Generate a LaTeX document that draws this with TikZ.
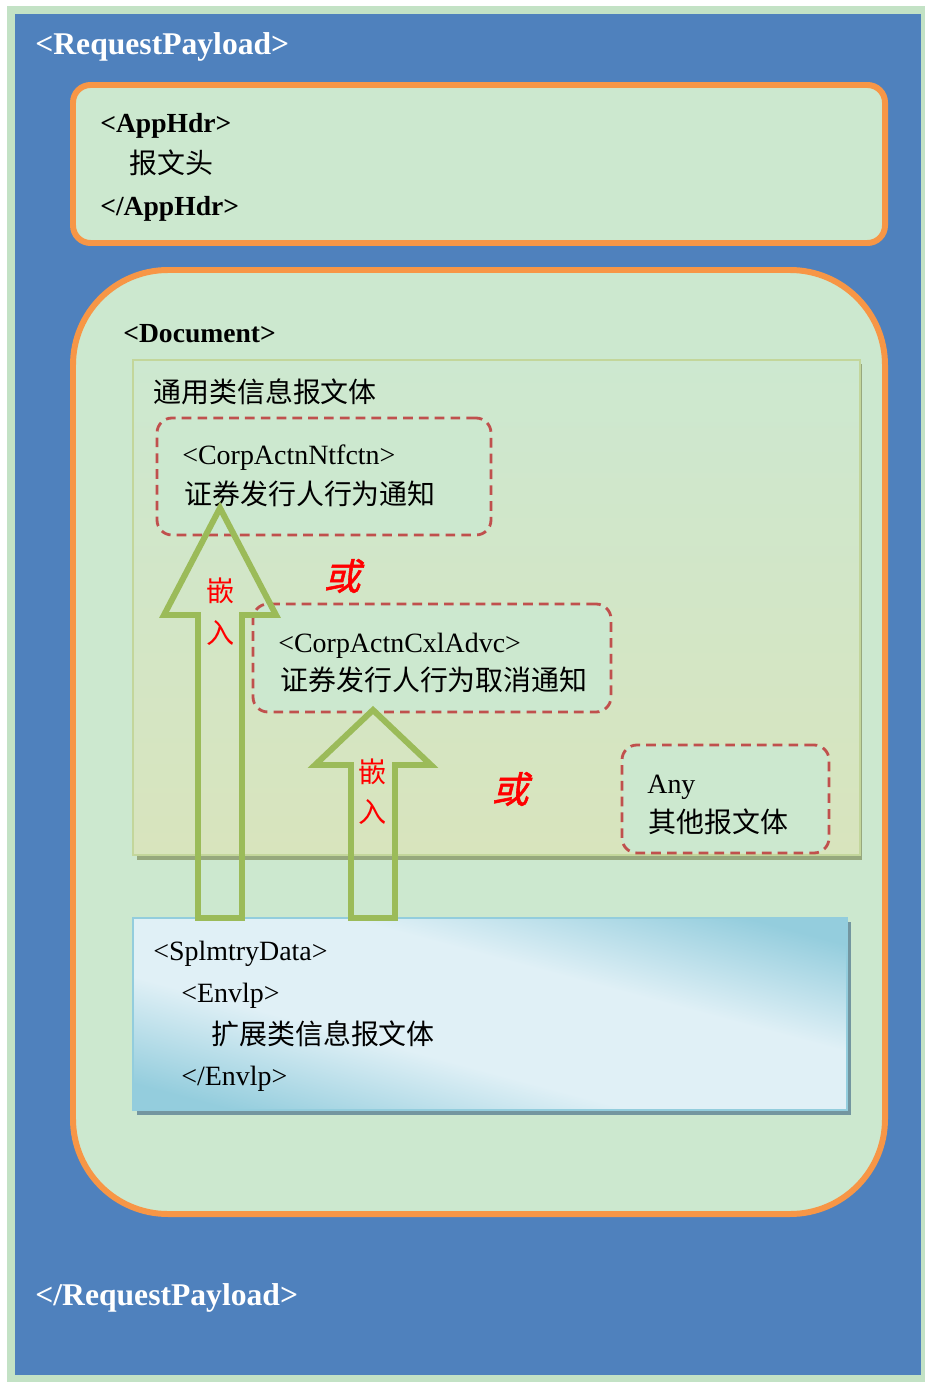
\documentclass[tikz,border=0pt]{standalone}
\usepackage{fontspec}
\setmainfont{Liberation Serif}
\newfontfamily\cjk{Noto Sans CJK SC}
\newfontfamily\cjkslant[FakeSlant=0.25,FakeBold=1.5]{Noto Sans CJK SC}
\usetikzlibrary{fit}

\definecolor{framegreen}{RGB}{195,226,197}
\definecolor{payblue}{RGB}{79,129,189}
\definecolor{hdrorange}{RGB}{247,150,70}
\definecolor{palegreen}{RGB}{204,232,207}
\definecolor{bodytop}{RGB}{205,232,208}
\definecolor{bodybot}{RGB}{216,228,189}
\definecolor{bodyline}{RGB}{195,214,155}
\definecolor{bodyshade}{RGB}{150,168,125}
\definecolor{dashred}{RGB}{192,80,77}
\definecolor{embedgreen}{RGB}{155,187,89}
\definecolor{splmlight}{RGB}{224,240,246}
\definecolor{splmdark}{RGB}{148,205,221}
\definecolor{splmline}{RGB}{147,205,221}
\definecolor{splmshade}{RGB}{115,150,160}

% light band along the diagonal, darker corners
\pgfdeclareverticalshading{splmfill}{100bp}{color(0bp)=(splmdark); color(40bp)=(splmdark);
  color(46.5bp)=(splmlight); color(53.5bp)=(splmlight); color(60bp)=(splmdark); color(100bp)=(splmdark)}

\tikzset{
  txt/.style={anchor=base west, inner sep=0pt, font=\fontsize{15.9}{19}\selectfont},
  ttl/.style={txt, text=white, font=\fontsize{18}{21}\selectfont\bfseries},
  tag/.style={txt, font=\fontsize{15.7}{19}\selectfont\bfseries},
  msgbox/.style={draw=dashred, line width=1.6pt, dash pattern=on 5.5pt off 3.5pt,
    fill=palegreen, rounded corners=0.3cm, inner sep=0pt},
  embed/.style={draw=embedgreen, line width=3.4pt},
  embedlbl/.style={text=red, inner sep=0pt, font=\cjk\fontsize{16}{16}\selectfont},
  orlbl/.style={text=red, inner sep=0pt, font=\cjkslant\fontsize{21}{21}\selectfont}
}

\begin{document}
\begin{tikzpicture}[x=0.02cm,y=-0.02cm]
\useasboundingbox (0,0) rectangle (925,1382);

% RequestPayload frame
\fill[framegreen] (7,6) rectangle (925,1382);
\fill[payblue] (15,14) rectangle (921,1375);
\node[ttl] (rqopen) at (35,55) {<RequestPayload>};
\node[ttl] (rqclose) at (35,1305) {</RequestPayload>};

% AppHdr
\node[fit={(73,85) (885,243)}, inner sep=0pt, draw=hdrorange, line width=3.4pt,
  fill=palegreen, rounded corners=0.35cm] (hdr) {};
\node[tag] (hdropen) at (100,133) {<AppHdr>};
\node[txt] (hdrtxt) at (129,174) {\cjk 报文头};
\node[tag] (hdrclose) at (100,215) {</AppHdr>};

% Document
\node[fit={(73,270) (885,1214)}, inner sep=0pt, draw=hdrorange, line width=3.4pt,
  fill=palegreen, rounded corners=1.9cm] (doc) {};
\node[tag] (docopen) at (123,342) {<Document>};

% generic message body
\fill[bodyshade] (137,364) rectangle (862,860);
\node[fit={(133,360) (860,855)}, inner sep=0pt, draw=bodyline, line width=1.4pt,
  top color=bodytop, bottom color=bodybot] (body) {};
\node[txt] (bodytxt) at (153,402) {\cjk 通用类信息报文体};

\node[msgbox, fit={(157,418) (491,535)}] (ntf) {};
\node[txt] (ntftag) at (182,464) {<CorpActnNtfctn>};
\node[txt] (ntftxt) at (184,504) {\cjk 证券发行人行为通知};

\node[msgbox, fit={(253,604) (611,712)}] (cxl) {};
\node[txt] (cxltag) at (278,652) {<CorpActnCxlAdvc>};
\node[txt] (cxltxt) at (280,690) {\cjk 证券发行人行为取消通知};

\node[msgbox, fit={(622,745) (829,853)}] (any) {};
\node[txt] (anytag) at (647,793) {Any};
\node[txt] (anytxt) at (648,832) {\cjk 其他报文体};

\node[orlbl] (or1) at (342,576) {或};
\node[orlbl] (or2) at (510,789) {或};

% supplementary data
\fill[splmshade] (137,922) rectangle (851,1115);
\begin{scope}
  \clip (133,918) rectangle (847,1110);
  \shade[shading=splmfill, shading angle=-15] (90,614) rectangle (890,1414);
\end{scope}
\node[fit={(133,918) (847,1110)}, inner sep=0pt, draw=splmline, line width=1.2pt] (splm) {};
\node[txt] (splmopen) at (153,960) {<SplmtryData>};
\node[txt] (envopen) at (181,1002) {<Envlp>};
\node[txt] (envtxt) at (211,1044) {\cjk 扩展类信息报文体};
\node[txt] (envclose) at (181,1085) {</Envlp>};

% embedding arrows
\coordinate (tip1) at (220,508);
\coordinate (tip2) at (373,710);
\draw[embed] (tip1) -- ++(56,107) -- ++(-34,0) -- ++(0,303) -- ++(-44,0)
  -- ++(0,-303) -- ++(-34,0) -- cycle;
\draw[embed] (tip2) -- ++(58,55) -- ++(-36,0) -- ++(0,153) -- ++(-44,0)
  -- ++(0,-153) -- ++(-36,0) -- cycle;
\node[embedlbl] (emb1a) at (221,591) {嵌};
\node[embedlbl] (emb1b) at (221,633) {入};
\node[embedlbl] (emb2a) at (373,772) {嵌};
\node[embedlbl] (emb2b) at (373,812) {入};
\end{tikzpicture}
\end{document}
